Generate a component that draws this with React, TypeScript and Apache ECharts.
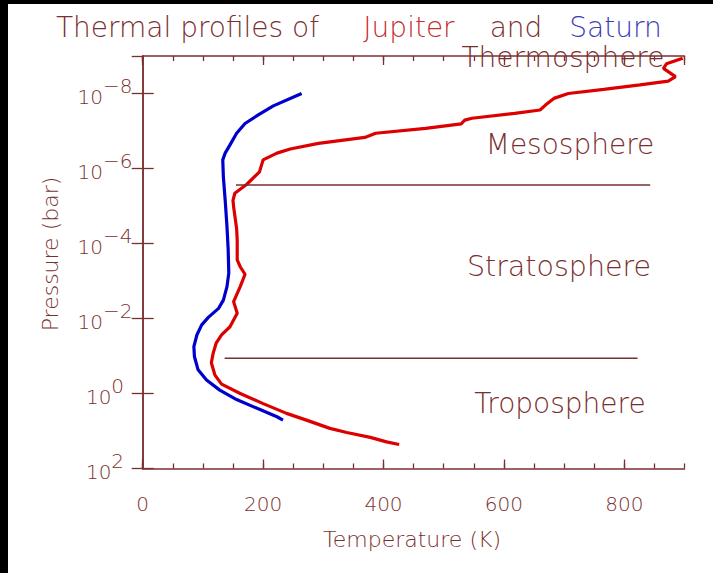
import React, { useEffect, useRef } from "react";
import * as echarts from "echarts";

// Jupiter thermal profile: temperature (K) and pressure (bar), top of atmosphere downward
const jupiterT = [897, 870, 865, 885, 873, 826, 766, 707, 683, 669, 660, 618, 547, 535, 529, 470, 387, 369, 292, 245, 223, 200, 194, 173, 153, 150, 151, 156, 157, 157, 162, 170, 162, 151, 157, 145, 131, 122, 117, 114, 120, 131, 162, 200, 239, 272, 311, 339, 378, 405, 426];
const jupiterP = [1.15e-9, 1.62e-9, 2.14e-9, 3.55e-9, 4.68e-9, 5.89e-9, 7.76e-9, 1.0e-8, 1.35e-8, 2.04e-8, 2.75e-8, 3.39e-8, 4.57e-8, 5.13e-8, 6.46e-8, 8.51e-8, 1.15e-7, 1.48e-7, 2.14e-7, 3.02e-7, 3.89e-7, 5.89e-7, 1.23e-6, 2.63e-6, 4.57e-6, 7.08e-6, 1.05e-5, 3.98e-5, 8.13e-5, 2.75e-4, 4.17e-4, 6.61e-4, 1.41e-3, 3.55e-3, 7.24e-3, 1.66e-2, 2.75e-2, 4.57e-2, 8.51e-2, 0.151, 0.324, 0.562, 1.0, 1.86, 3.39, 5.13, 8.51, 11.0, 14.8, 19.5, 22.9];

// Saturn thermal profile
const saturnT = [264, 217, 192, 170, 156, 145, 137, 133, 134, 137, 140, 142, 143, 140, 134, 126, 109, 98, 90, 85, 86, 92, 106, 128, 156, 189, 223, 233];
const saturnP = [1.0e-8, 2.14e-8, 3.72e-8, 6.31e-8, 1.15e-7, 2.34e-7, 3.89e-7, 5.89e-7, 1.66e-6, 6.92e-6, 3.55e-5, 1.48e-4, 6.17e-4, 1.41e-3, 3.24e-3, 5.37e-3, 9.33e-3, 1.48e-2, 2.75e-2, 5.62e-2, 0.105, 0.234, 0.437, 0.813, 1.45, 2.45, 4.17, 5.13];

// Layer boundaries
const mesopauseT = [155, 843];
const mesopauseP = 2.75e-6;
const tropopauseT = [136, 822];
const tropopauseP = 0.115;

const titleParts = ["Thermal profiles of", "Jupiter", "and", "Saturn"];
const regionNames = ["Thermosphere", "Mesosphere", "Stratosphere", "Troposphere"];
const xName = "Temperature (K)";
const yName = "Pressure (bar)";

const MAROON = "#7a2f2f";
const FONT = "'DejaVu Sans', sans-serif";
const WEIGHT = 200;

const zip = (a: number[], b: number[]) => a.map((v, i) => [v, b[i]]);

export default function App() {
  const ref = useRef<HTMLDivElement>(null);
  useEffect(() => {
    document.body.style.margin = "0";
    document.body.style.background = "#000";
    const chart = echarts.init(ref.current!, null, { renderer: "svg" });
    const axisLine = { show: true, lineStyle: { color: MAROON, width: 1.5 } };
    const yCommon = {
      type: "log",
      logBase: 100,
      inverse: true,
      min: 1e-9,
      max: 100,
      splitLine: { show: false },
      axisLine,
    };
    const xCommon = { type: "value", min: 0, max: 900, splitLine: { show: false } };
    const txt = (text: string, x: number, y: number, size: number, color: string, rotation = 0) => ({
      type: "text",
      x,
      y,
      rotation,
      style: {
        text,
        fill: color,
        fontSize: size,
        fontFamily: FONT,
        fontWeight: WEIGHT,
        align: "center",
        verticalAlign: "middle",
      },
    });
    chart.setOption({
      animation: false,
      backgroundColor: "#fff",
      grid: { left: 134.7, right: 28.5, top: 52, bottom: 104.5, containLabel: false },
      xAxis: [
        {
          ...xCommon,
          position: "bottom",
          interval: 200,
          axisLine,
          axisTick: { show: true, inside: true, length: 9, lineStyle: { color: MAROON, width: 1.3 } },
          axisLabel: { show: true, showMaxLabel: false, margin: 25, color: MAROON, fontSize: 20, fontFamily: FONT, fontWeight: WEIGHT },
        },
        {
          ...xCommon,
          position: "bottom",
          interval: 50,
          axisLine: { show: false },
          axisTick: { show: true, inside: true, length: 5, lineStyle: { color: MAROON, width: 1.3 } },
          axisLabel: { show: false },
        },
        {
          ...xCommon,
          position: "top",
          interval: 200,
          axisLine,
          axisTick: { show: true, inside: true, length: 9, lineStyle: { color: MAROON, width: 1.3 } },
          axisLabel: { show: false },
        },
        {
          ...xCommon,
          position: "top",
          interval: 50,
          axisLine: { show: false },
          axisTick: { show: true, inside: true, length: 5, lineStyle: { color: MAROON, width: 1.3 } },
          axisLabel: { show: false },
        },
      ],
      yAxis: [
        {
          ...yCommon,
          position: "left",
          axisTick: { show: true, inside: true, length: 11, lineStyle: { color: MAROON, width: 1.3 } },
          axisLabel: {
            show: true,
            showMinLabel: false,
            align: "center",
            margin: 37.7,
            padding: [0, 0, 5, 0],
            formatter: (v: number) => {
              const e = Math.round(Math.log10(v));
              return `{b|10}{s|${e < 0 ? "\u2212" + -e : e}}`;
            },
            rich: {
              b: { color: MAROON, fontSize: 20, fontFamily: FONT, fontWeight: WEIGHT, padding: [11, 0, 0, 0] },
              s: { color: MAROON, fontSize: 20, fontFamily: FONT, fontWeight: WEIGHT, padding: [0, 0, 11, 0] },
            },
          },
        },
        {
          ...yCommon,
          position: "right",
          axisTick: { show: true, inside: true, length: 11, lineStyle: { color: MAROON, width: 1.3 } },
          axisLabel: { show: false },
        },
      ],
      series: [
        {
          name: "Jupiter",
          type: "line",
          data: zip(jupiterT, jupiterP),
          showSymbol: false,
          lineStyle: { color: "#dd0000", width: 3.2 },
        },
        {
          name: "Saturn",
          type: "line",
          data: zip(saturnT, saturnP),
          showSymbol: false,
          lineStyle: { color: "#0000cc", width: 3.2 },
        },
        {
          name: "mesopause",
          type: "line",
          data: mesopauseT.map((t) => [t, mesopauseP]),
          showSymbol: false,
          lineStyle: { color: MAROON, width: 1.5 },
        },
        {
          name: "tropopause",
          type: "line",
          data: tropopauseT.map((t) => [t, tropopauseP]),
          showSymbol: false,
          lineStyle: { color: MAROON, width: 1.5 },
        },
      ],
      graphic: [
        txt(titleParts[0], 179.5, 23, 28, MAROON),
        txt(titleParts[1], 401, 23, 28, "#c42e2e"),
        txt(titleParts[2], 508, 23, 28, MAROON),
        txt(titleParts[3], 607.5, 23, 28, "#3c3cb4"),
        txt(regionNames[0], 555, 53, 28, MAROON),
        txt(regionNames[1], 562, 140.5, 28, MAROON),
        txt(regionNames[2], 551, 262.7, 28.5, MAROON),
        txt(regionNames[3], 552, 399, 28, MAROON),
        txt(xName, 404, 535, 22, MAROON),
        txt(yName, 42, 250, 22, MAROON, Math.PI / 2),
      ],
    });
    return () => chart.dispose();
  }, []);
  return (
    <div style={{ width: 713, height: 573, background: "#000", position: "relative" }}>
      <div
        ref={ref}
        style={{ position: "absolute", left: 8, top: 4, width: 705, height: 569, background: "#fff" }}
      />
    </div>
  );
}
